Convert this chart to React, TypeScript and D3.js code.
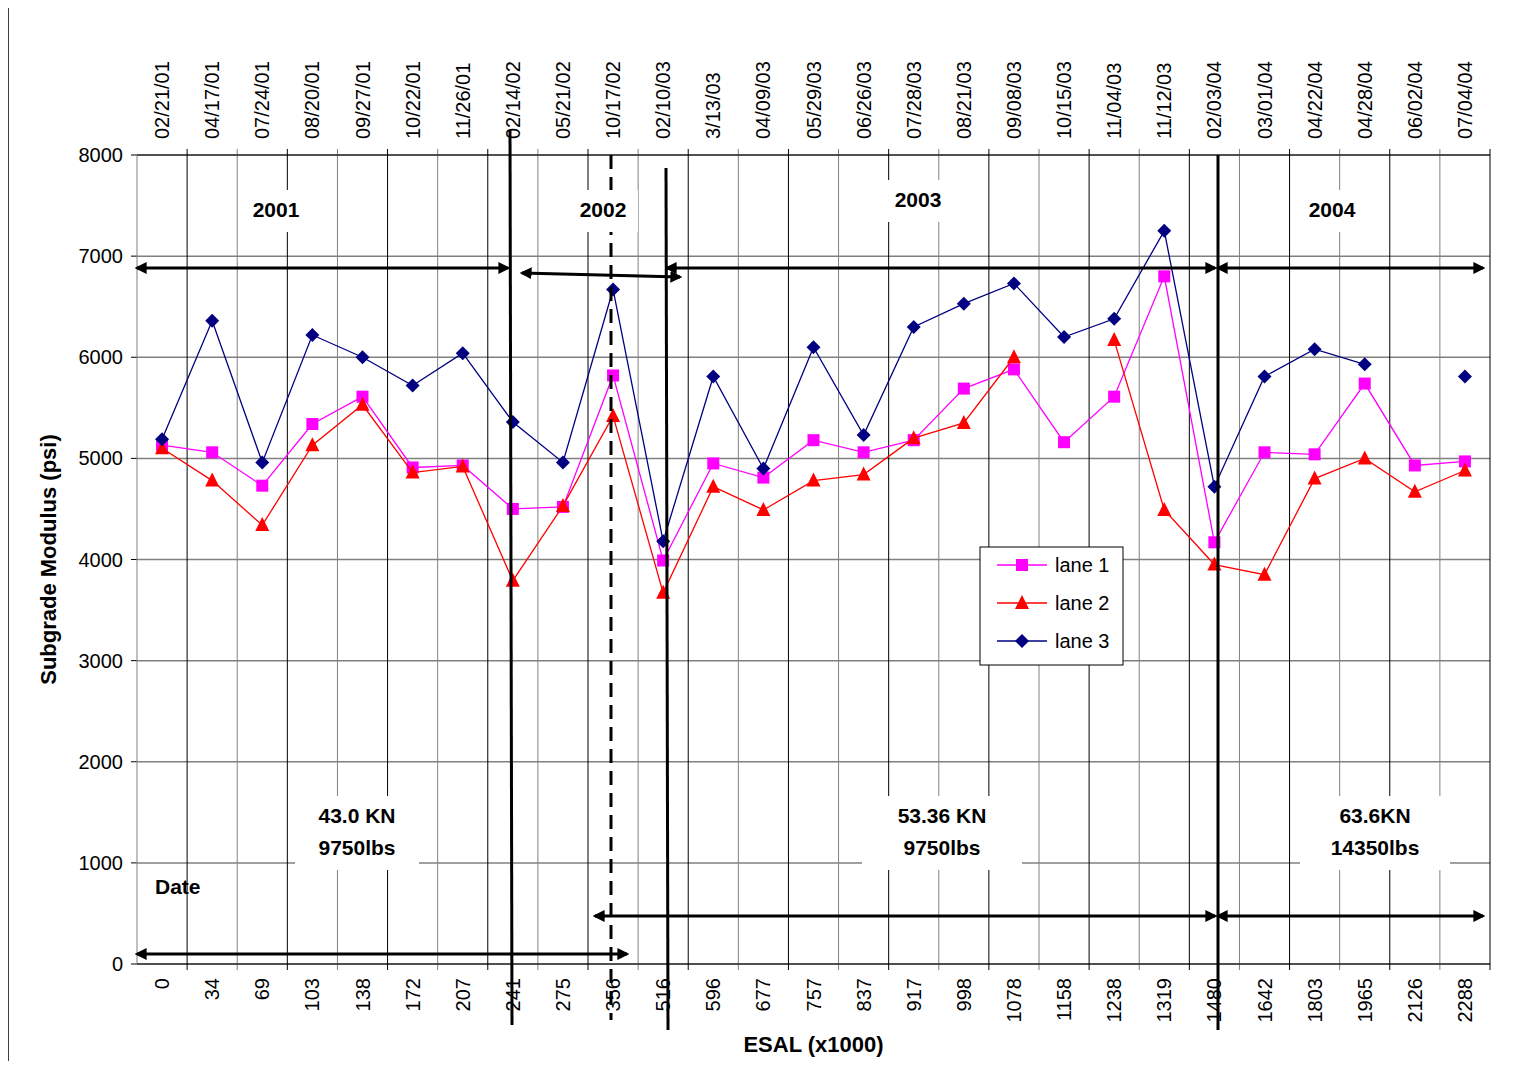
import React from 'react';
import * as d3 from 'd3';

const esal = ['0','34','69','103','138','172','207','241','275','356','516','596','677','757','837','917','998','1078','1158','1238','1319','1480','1642','1803','1965','2126','2288'];
const dates = ['02/21/01','04/17/01','07/24/01','08/20/01','09/27/01','10/22/01','11/26/01','02/14/02','05/21/02','10/17/02','02/10/03','3/13/03','04/09/03','05/29/03','06/26/03','07/28/03','08/21/03','09/08/03','10/15/03','11/04/03','11/12/03','02/03/04','03/01/04','04/22/04','04/28/04','06/02/04','07/04/04'];
const lane1 = [5130,5060,4730,5340,5610,4910,4930,4500,4520,5820,3990,4950,4810,5180,5060,5180,5690,5880,5160,5610,6800,4170,5060,5040,5740,4930,4970];
const lane2 = [5100,4780,4340,5130,5530,4860,4920,3790,4530,5420,3670,4720,4490,4780,4840,5200,5350,6000,null,6170,4490,3950,3850,4800,5000,4670,4880];
const lane3 = [5190,6360,4960,6220,6000,5720,6040,5360,4960,6670,4180,5810,4900,6100,5230,6300,6530,6730,6200,6380,7250,4720,5810,6080,5930,null,5810];
const yTicks = [0,1000,2000,3000,4000,5000,6000,7000,8000];

const L = 137, R = 1490, T = 155, B = 964;

export default function App() {
  const x = d3.scaleBand<string>().domain(esal).range([L, R]);
  const y = d3.scaleLinear().domain([0, 8000]).range([B, T]);
  const cx = (i: number) => x(esal[i])! + x.bandwidth() / 2;
  const line = d3.line<number | null>().defined(d => d != null).x((_, i) => cx(i)).y(d => y(d as number));
  const series = [
    { name: 'lane 1', data: lane1, color: '#ff00ff', shape: 'square' },
    { name: 'lane 2', data: lane2, color: '#ff0000', shape: 'tri' },
    { name: 'lane 3', data: lane3, color: '#000080', shape: 'diamond' },
  ];
  const marker = (shape: string, px: number, py: number, color: string, key: any) => {
    if (shape === 'square') return <rect key={key} x={px - 6} y={py - 6} width={12} height={12} fill={color} />;
    if (shape === 'tri') return <path key={key} d={`M${px},${py - 8}L${px + 7},${py + 6}L${px - 7},${py + 6}Z`} fill={color} />;
    return <path key={key} d={`M${px},${py - 7}L${px + 7},${py}L${px},${py + 7}L${px - 7},${py}Z`} fill={color} />;
  };
  const arrow = (x1: number, y1: number, x2: number, y2: number, k: string) => (
    <line key={k} x1={x1} y1={y1} x2={x2} y2={y2} stroke="#000" strokeWidth={3} markerStart="url(#ah)" markerEnd="url(#ah)" />
  );
  const box = (cxp: number, cyp: number, lines: string[], w: number, k: string) => (
    <g key={k}>
      <rect x={cxp - w / 2} y={cyp - 20} width={w} height={lines.length * 32 + 10} fill="#fff" />
      {lines.map((t, i) => (
        <text key={i} x={cxp} y={cyp + 7 + i * 32} textAnchor="middle" fontSize={21} fontWeight="bold">{t}</text>
      ))}
    </g>
  );
  return (
    <svg width={1514} height={1069} style={{ display: 'block', margin: -8, fontFamily: 'Arial, Liberation Sans, sans-serif' }}>
      <defs>
        <marker id="ah" viewBox="0 0 10 10" refX="8" refY="5" markerWidth="4" markerHeight="4" orient="auto-start-reverse">
          <path d="M0,0L10,5L0,10Z" fill="#000" />
        </marker>
      </defs>
      <rect x={0} y={0} width={1514} height={1069} fill="#fff" />
      <rect x={8} y={4} width={1504} height={1063} fill="none" stroke="#000" strokeWidth={1.5} />
      {yTicks.map(t => (
        <g key={t}>
          <line x1={L} x2={R} y1={y(t)} y2={y(t)} stroke="#808080" strokeWidth={1.5} />
          <line x1={L - 6} x2={L} y1={y(t)} y2={y(t)} stroke="#000" />
          <text x={L - 14} y={y(t) + 7} textAnchor="end" fontSize={20}>{t}</text>
        </g>
      ))}
      {esal.map((e, i) => (
        <g key={e}>
          <line x1={x(e)! + x.bandwidth()} x2={x(e)! + x.bandwidth()} y1={T - 6} y2={B + 6} stroke={i % 2 ? '#808080' : '#000'} strokeWidth={1} />
          <text transform={`translate(${cx(i) + 7},${B + 14}) rotate(-90)`} textAnchor="end" fontSize={20}>{e}</text>
          <text transform={`translate(${cx(i) + 7},${T - 16}) rotate(-90)`} textAnchor="start" fontSize={20}>{dates[i]}</text>
        </g>
      ))}
      <line x1={L} x2={L} y1={T} y2={B} stroke="#808080" />
      <line x1={L} x2={R} y1={B} y2={B} stroke="#000" />
      <line x1={L} x2={R} y1={T} y2={T} stroke="#000" />
      {series.map(s => (
        <g key={s.name}>
          <path d={line(s.data)!} fill="none" stroke={s.color} strokeWidth={1.3} />
          {s.data.map((v, i) => v == null ? null : marker(s.shape, cx(i), y(v), s.color, i))}
        </g>
      ))}
      <line x1={510} x2={512} y1={130} y2={1025} stroke="#000" strokeWidth={3} />
      <line x1={611} x2={611} y1={155} y2={1020} stroke="#000" strokeWidth={3} strokeDasharray="14,8" />
      <line x1={666} x2={668} y1={168} y2={1030} stroke="#000" strokeWidth={3} />
      <line x1={1218} x2={1218} y1={155} y2={1030} stroke="#000" strokeWidth={3} />
      {box(276, 210, ['2001'], 70, 'a')}
      {box(603, 210, ['2002'], 70, 'b')}
      {box(918, 200, ['2003'], 70, 'c')}
      {box(1332, 210, ['2004'], 70, 'd')}
      {box(357, 816, ['43.0 KN', '9750lbs'], 124, 'e')}
      {box(942, 816, ['53.36 KN', '9750lbs'], 160, 'f')}
      {box(1375, 816, ['63.6KN', '14350lbs'], 150, 'g')}
      <text x={155} y={894} fontSize={21} fontWeight="bold">Date</text>
      {arrow(137, 268, 508, 268, 'a1')}
      {arrow(522, 273, 680, 277, 'a2')}
      {arrow(667, 268, 1215, 268, 'a3')}
      {arrow(1218, 268, 1483, 268, 'a4')}
      {arrow(137, 954, 627, 954, 'a5')}
      {arrow(595, 916, 1215, 916, 'a6')}
      {arrow(1218, 916, 1483, 916, 'a7')}
      <g>
        <rect x={980} y={547} width={143} height={118} fill="#fff" stroke="#000" />
        {series.map((s, i) => (
          <g key={s.name}>
            <line x1={997} x2={1047} y1={565 + i * 38} y2={565 + i * 38} stroke={s.color} strokeWidth={1.3} />
            {marker(s.shape, 1022, 565 + i * 38, s.color, 'm')}
            <text x={1055} y={572 + i * 38} fontSize={20}>{s.name}</text>
          </g>
        ))}
      </g>
      <text transform={`translate(56,${(T + B) / 2}) rotate(-90)`} textAnchor="middle" fontSize={22} fontWeight="bold">Subgrade Modulus (psi)</text>
      <text x={(L + R) / 2} y={1052} textAnchor="middle" fontSize={22} fontWeight="bold">ESAL (x1000)</text>
    </svg>
  );
}
